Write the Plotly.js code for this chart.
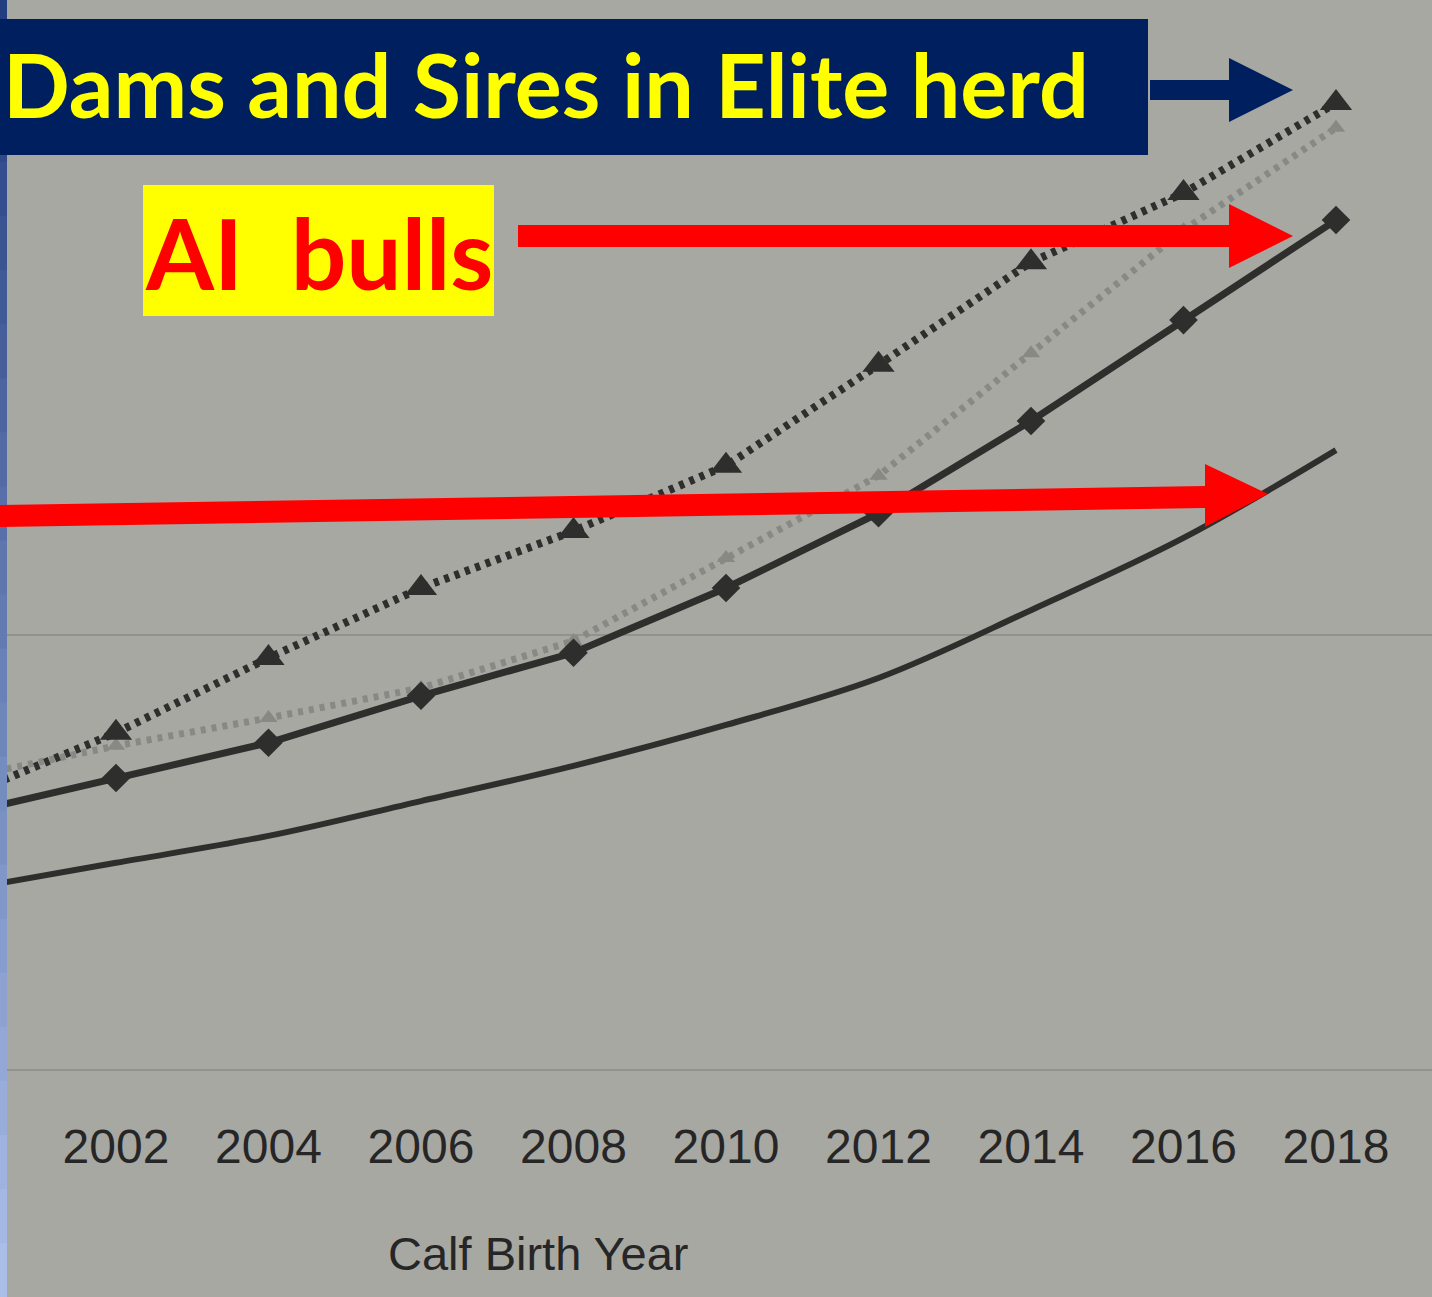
<!DOCTYPE html>
<html>
<head>
<meta charset="utf-8">
<script src="https://cdn.plot.ly/plotly-3.0.1.min.js"></script>
<style>html,body{margin:0;padding:0;background:#a8a8a3;}#chart{width:1432px;height:1297px;}</style>
</head>
<body>
<div id="chart"></div>
<script>
// ---- data ----
const years = [2000, 2002, 2004, 2006, 2008, 2010, 2012, 2014, 2016, 2018];
const tickYears = [2002, 2004, 2006, 2008, 2010, 2012, 2014, 2016, 2018];
const eliteDamsSires = [62.8, 77.5, 94.7, 110.8, 123.9, 138.9, 162.1, 185.7, 201.6, 222.3];
const eliteOther = [67.1, 74.5, 80.9, 87.8, 98.6, 117.7, 136.6, 164.8, 193.1, 216.6];
const aiBulls = [58.9, 67.1, 75.2, 86.0, 95.9, 110.8, 128.0, 149.2, 172.4, 195.4];
const allCows = [41.4, 47.6, 53.8, 61.8, 69.9, 79.3, 90.1, 105.7, 122.3, 142.5];
const gridValues = [0, 100];
const xTitle = 'Calf Birth Year';
const label1 = 'Dams and Sires in Elite herd';
const label2 = 'AI\u00a0 bulls';

// ---- geometry helpers (page pixels -> paper fractions) ----
const W = 1432, H = 1297, PLOT_BOTTOM = 1072;
const fx = px => px / W;
const fy = py => (PLOT_BOTTOM - py) / PLOT_BOTTOM;
const path = pts => 'M' + pts.map(p => fx(p[0]) + ',' + fy(p[1])).join(' L') + ' Z';

const dark = 'rgb(46,46,44)';
const light = 'rgb(136,136,132)';

const traces = [
  { x: years, y: eliteOther, name: 'Elite herd', mode: 'lines+markers',
    line: { color: light, width: 7, dash: '5px,6px' },
    marker: { symbol: 'triangle-up', size: 16, color: light } },
  { x: years, y: allCows, name: 'Population', mode: 'lines',
    line: { color: dark, width: 6, shape: 'spline', smoothing: 1 } },
  { x: years, y: aiBulls, name: 'AI bulls', mode: 'lines+markers',
    line: { color: dark, width: 7 },
    marker: { symbol: 'diamond', size: 22, color: dark } },
  { x: years, y: eliteDamsSires, name: 'Dams and Sires in Elite herd', mode: 'lines+markers',
    line: { color: dark, width: 8, dash: '5px,6px' },
    marker: { symbol: 'triangle-up', size: 28, color: dark } }
];

// left slide strip (gradient built from bands)
const shapes = [];
const N = 24;
for (let i = 0; i < N; i++) {
  const t = i / (N - 1);
  const r = Math.round(35 + t * 135), g = Math.round(62 + t * 128), b = Math.round(128 + t * 104);
  shapes.push({ type: 'rect', xref: 'paper', yref: 'paper', x0: fx(0), x1: fx(7),
    y0: fy(i * H / N), y1: fy((i + 1) * H / N + 1), line: { width: 0 }, fillcolor: `rgb(${r},${g},${b})` });
}
shapes.push(
  { type: 'rect', xref: 'paper', yref: 'paper', x0: fx(0), x1: fx(1148), y0: fy(19), y1: fy(155),
    line: { width: 0 }, fillcolor: '#001f5f' },
  { type: 'path', xref: 'paper', yref: 'paper', line: { width: 0 }, fillcolor: '#001f5f',
    path: path([[1150, 80], [1229, 80], [1229, 58], [1293, 90], [1229, 122], [1229, 100], [1150, 100]]) },
  { type: 'rect', xref: 'paper', yref: 'paper', x0: fx(143), x1: fx(494), y0: fy(185), y1: fy(316),
    line: { width: 0 }, fillcolor: '#ffff00' },
  { type: 'path', xref: 'paper', yref: 'paper', line: { width: 0 }, fillcolor: '#ff0000',
    path: path([[518, 225], [1229, 225], [1229, 204], [1293, 236], [1229, 268], [1229, 247], [518, 247]]) },
  { type: 'path', xref: 'paper', yref: 'paper', line: { width: 0 }, fillcolor: '#ff0000',
    path: path([[0, 505], [1205, 486], [1205, 464], [1268, 494], [1205, 527], [1205, 508], [0, 527]]) }
);

const layout = {
  width: W, height: H,
  margin: { l: 0, r: 0, t: 0, b: H - PLOT_BOTTOM },
  paper_bgcolor: '#a8a8a3', plot_bgcolor: '#a8a8a3',
  showlegend: false,
  xaxis: { range: [2000.479, 2019.259], tickvals: tickYears, ticktext: tickYears.map(String),
    showgrid: false, zeroline: false, showline: false, ticks: '',
    ticklabelstandoff: 42,
    tickfont: { family: 'Liberation Sans, Arial, sans-serif', size: 48, color: 'rgb(38,38,38)' } },
  yaxis: { range: [-0.5, 246], tickvals: gridValues, showticklabels: false, zeroline: false,
    showgrid: true, gridcolor: 'rgba(120,120,115,0.45)', gridwidth: 2, showline: false },
  shapes: shapes,
  annotations: [
    { xref: 'paper', yref: 'paper', x: fx(1), y: fy(84), xanchor: 'left', yanchor: 'middle', showarrow: false,
      text: '<b>' + label1 + '</b>', font: { family: 'Lato, Open Sans, sans-serif', size: 88, color: '#ffff00' } },
    { xref: 'paper', yref: 'paper', x: fx(319), y: fy(252), xanchor: 'center', yanchor: 'middle', showarrow: false,
      text: '<b>' + label2 + '</b>', font: { family: 'Lato, Open Sans, sans-serif', size: 98, color: '#ff0000' } },
    { xref: 'paper', yref: 'paper', x: fx(538), y: fy(1253), xanchor: 'center', yanchor: 'middle', showarrow: false,
      text: xTitle, font: { family: 'Liberation Sans, Arial, sans-serif', size: 47, color: 'rgb(38,38,38)' } }
  ]
};

Plotly.newPlot('chart', traces, layout, { displayModeBar: false, staticPlot: true });
</script>
</body>
</html>
